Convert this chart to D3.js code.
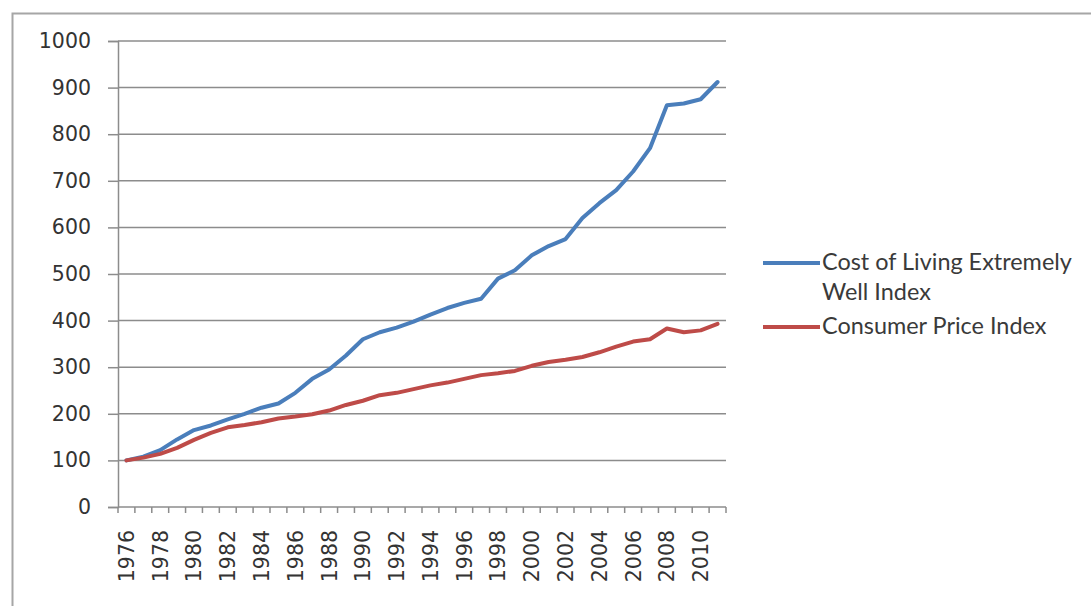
<!DOCTYPE html>
<html>
<head>
<meta charset="utf-8">
<script src="https://cdn.jsdelivr.net/npm/d3@7"></script>
<style>
  html, body { margin: 0; padding: 0; background: #fff; }
  svg { display: block; }
</style>
</head>
<body>
<svg id="chart" width="1091" height="606"></svg>
<script>
const years = d3.range(1976, 2012).map(String);
const costOfLiving = [100, 108, 122, 145, 165, 175, 188, 200, 213, 222,
                      245, 275, 295, 325, 360, 375, 385, 398, 413, 427,
                      438, 447, 490, 508, 540, 560, 575, 620, 652, 680,
                      720, 770, 862, 866, 875, 912];
const cpi = [100, 106, 114, 127, 144, 159, 171, 176, 182, 190,
             194, 199, 207, 219, 228, 240, 245, 253, 261, 267,
             275, 283, 287, 292, 303, 311, 316, 322, 332, 344,
             355, 360, 383, 375, 379, 393];
const yTicks = [0, 100, 200, 300, 400, 500, 600, 700, 800, 900, 1000];
const seriesNames = ["Cost of Living Extremely Well Index", "Consumer Price Index"];
const seriesLegendLines = [["Cost of Living Extremely", "Well Index"], ["Consumer Price Index"]];
const seriesColors = ["#4a7ebb", "#be4b48"];

const svg = d3.select("#chart");
const axisFont = "'DejaVu Sans', Verdana, sans-serif";

// outer chart frame
svg.append("rect")
  .attr("x", 12.5).attr("y", 13.5)
  .attr("width", 1100).attr("height", 620)
  .attr("fill", "#fff")
  .attr("stroke", "#a6a6a6").attr("stroke-width", 2);

const x = d3.scaleBand().domain(years).range([118, 726]);
const y = d3.scaleLinear().domain([0, 1000]).range([507, 41]);

// y axis
const yAxis = d3.axisLeft(y).tickValues(yTicks).tickFormat(d3.format("d")).tickSize(10).tickPadding(17);
const gy = svg.append("g").attr("transform", "translate(118,0)")
  .attr("font-family", axisFont).attr("font-size", 20.5)
  .call(yAxis);
gy.attr("font-family", axisFont).attr("font-size", 20.5);
gy.select(".domain").attr("stroke", "#8c8c8c").attr("stroke-width", 1.5);
gy.selectAll(".tick line").attr("stroke", "#8c8c8c").attr("stroke-width", 1.5);
gy.selectAll(".tick text").attr("fill", "#333");

// gridlines
svg.append("g").selectAll("line")
  .data(yTicks.filter(v => v > 0))
  .join("line")
  .attr("x1", 118).attr("x2", 726)
  .attr("y1", d => y(d)).attr("y2", d => y(d))
  .attr("stroke", "#8c8c8c").attr("stroke-width", 1.5);

// x axis
const xAxis = d3.axisBottom(x)
  .tickValues(years.filter((d, i) => i % 2 === 0))
  .tickSize(0).tickPadding(0);
const gx = svg.append("g").attr("transform", "translate(0,507)").call(xAxis);
gx.attr("font-family", axisFont).attr("font-size", 20.5);
gx.select(".domain").remove();
gx.selectAll(".tick text")
  .attr("fill", "#333")
  .attr("text-anchor", "end")
  .attr("dy", "0.36em")
  .attr("transform", "translate(0,23) rotate(-90)")
  .attr("x", 0).attr("y", 0);

// x axis line and boundary ticks
svg.append("line")
  .attr("x1", 118).attr("x2", 726).attr("y1", y(0)).attr("y2", y(0))
  .attr("stroke", "#8c8c8c").attr("stroke-width", 1.5);
const boundaries = years.map(d => x(d)).concat([x(years[years.length - 1]) + x.bandwidth()]);
svg.append("g").selectAll("line")
  .data(boundaries)
  .join("line")
  .attr("x1", d => d).attr("x2", d => d)
  .attr("y1", y(0)).attr("y2", y(0) + 6)
  .attr("stroke", "#8c8c8c").attr("stroke-width", 1.5);

// lines
const line = d3.line()
  .x((d, i) => x(years[i]) + x.bandwidth() / 2)
  .y(d => y(d));
[costOfLiving, cpi].forEach((s, k) => {
  svg.append("path")
    .datum(s)
    .attr("d", line)
    .attr("fill", "none")
    .attr("stroke", seriesColors[k])
    .attr("stroke-width", 4)
    .attr("stroke-linejoin", "round")
    .attr("stroke-linecap", "round");
});

// legend
const legendY = [263, 327];
const legendFont = "Lato, 'Open Sans', sans-serif";
const legendTexts = [];
seriesLegendLines.forEach((lines, k) => {
  svg.append("line")
    .attr("x1", 763).attr("x2", 820)
    .attr("y1", legendY[k]).attr("y2", legendY[k])
    .attr("stroke", seriesColors[k]).attr("stroke-width", 4);
  const t = svg.append("text")
    .attr("x", 822).attr("y", legendY[k] + 7)
    .attr("fill", "#3a3a3a")
    .style("font-family", legendFont)
    .style("font-size", "20px");
  lines.forEach((ln, j) => {
    t.append("tspan").attr("x", 822).attr("dy", j === 0 ? 0 : 30).text(ln);
  });
  legendTexts.push(t);
});
// fit legend font width to reference (first line ~250px)
const firstSpan = legendTexts[0].select("tspan").node();
const w = firstSpan.getComputedTextLength();
if (w > 0) {
  const fs = 20 * 250 / w;
  legendTexts.forEach(t => t.style("font-size", fs + "px"));
}
</script>
</body>
</html>
